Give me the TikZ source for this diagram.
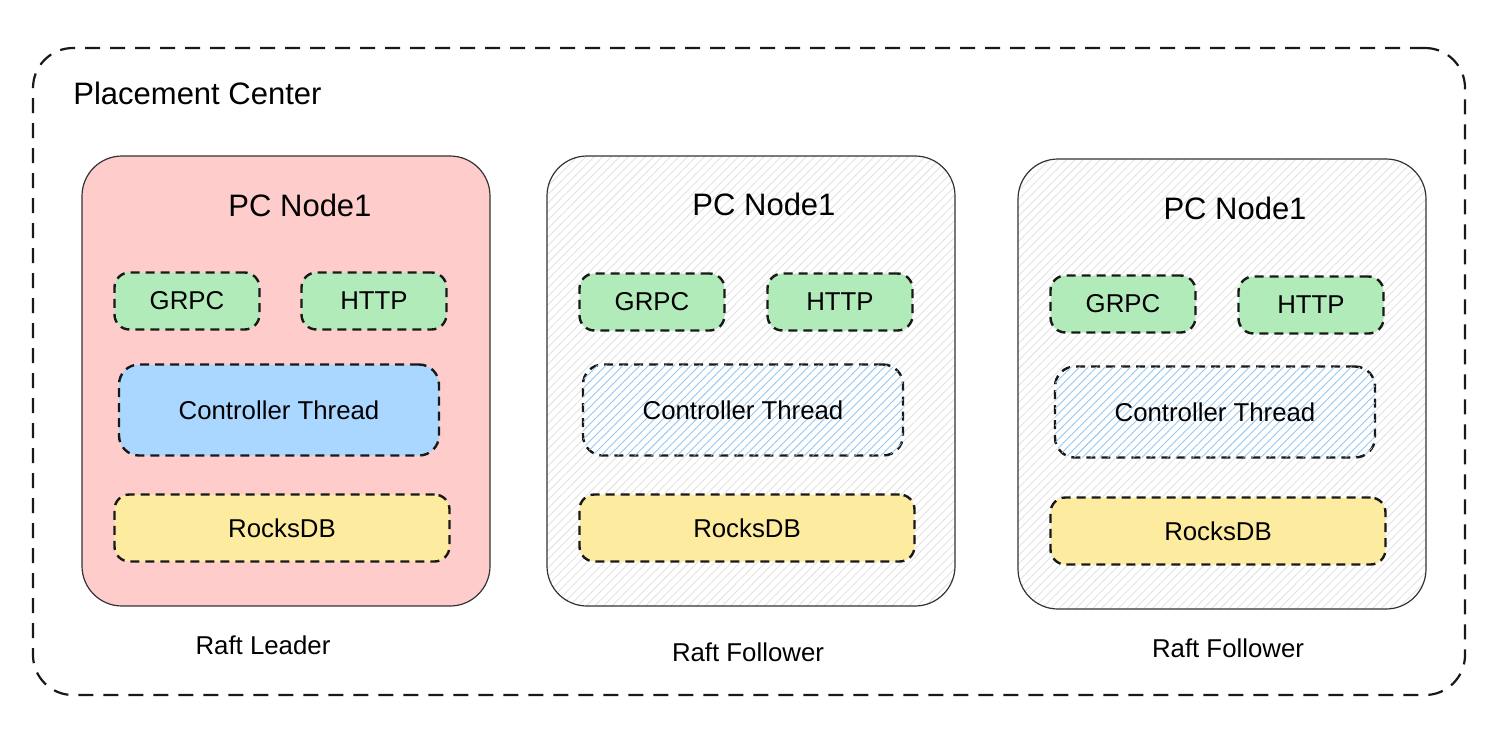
\documentclass[tikz,border=0pt]{standalone}
\usepackage{fontspec}
\setmainfont{Liberation Sans}
\usetikzlibrary{patterns.meta}
\definecolor{leaderfill}{HTML}{FFCCCC}
\definecolor{apigreen}{RGB}{178,235,186}
\definecolor{ctrlblue}{RGB}{170,215,255}
\definecolor{ctrlhatch}{RGB}{150,200,240}
\definecolor{dbyellow}{RGB}{253,236,160}
\definecolor{followhatch}{RGB}{226,226,226}

\begin{document}
\begin{tikzpicture}[x=0.5pt, y=-0.5pt,
    pcbox/.style={draw=black!80, line width=0.6pt, rounded corners=20pt, minimum width=204pt, minimum height=225pt},
    part/.style={draw=black!90, line width=1.2pt, dash pattern=on 4.5pt off 3pt, rounded corners=7.5pt, font=\fontsize{12.9}{15}\selectfont},
    apibox/.style={part, fill=apigreen, minimum width=72.5pt, minimum height=28.5pt},
    ctrlbox/.style={part, rounded corners=10pt, minimum width=160pt, minimum height=45.5pt},
    dbbox/.style={part, fill=dbyellow, minimum width=167.5pt, minimum height=33.5pt},
    hatch/.style={pattern={Lines[angle=45,distance=3pt,line width=0.45pt]}, pattern color=#1},
    title/.style={font=\fontsize{15.5}{18}\selectfont},
    role/.style={font=\fontsize{12.9}{15}\selectfont}]
    \useasboundingbox (0,0) rectangle (1508,734);
    % Placement Center
    \node[draw=black!90, line width=1.1pt, dash pattern=on 7.5pt off 5pt, rounded corners=20pt, minimum width=716pt, minimum height=323.5pt] (center) at (749, 371.5) {};
    \node[title, anchor=west, inner sep=0pt] (centertitle) at (73, 93) {Placement Center};
    % Raft Leader
    \node[pcbox, fill=leaderfill] (pc1) at (286, 381) {};
    \node[title] (name1) at (300, 205) {PC Node1};
    \node[apibox] (grpc1) at (187, 301) {GRPC};
    \node[apibox] (http1) at (374, 301) {HTTP};
    \node[ctrlbox, fill=ctrlblue] (ctrl1) at (279, 410) {Controller Thread};
    \node[dbbox] (rocks1) at (282, 528) {RocksDB};
    \node[role] (role1) at (263, 645) {Raft Leader};
    % Raft Follower
    \node[pcbox, hatch=followhatch] (pc2) at (751, 381) {};
    \node[title] (name2) at (764, 204) {PC Node1};
    \node[apibox] (grpc2) at (652, 302) {GRPC};
    \node[apibox] (http2) at (840, 302) {HTTP};
    \node[ctrlbox, fill=white, postaction={hatch=ctrlhatch}] (ctrl2) at (743, 410) {Controller Thread};
    \node[dbbox] (rocks2) at (747, 528) {RocksDB};
    \node[role] (role2) at (748, 652) {Raft Follower};
    % Raft Follower
    \node[pcbox, hatch=followhatch] (pc3) at (1222, 384) {};
    \node[title] (name3) at (1235, 208) {PC Node1};
    \node[apibox] (grpc3) at (1123, 304) {GRPC};
    \node[apibox] (http3) at (1311, 305) {HTTP};
    \node[ctrlbox, fill=white, postaction={hatch=ctrlhatch}] (ctrl3) at (1215, 412) {Controller Thread};
    \node[dbbox] (rocks3) at (1218, 531) {RocksDB};
    \node[role] (role3) at (1228, 648) {Raft Follower};
\end{tikzpicture}
\end{document}
